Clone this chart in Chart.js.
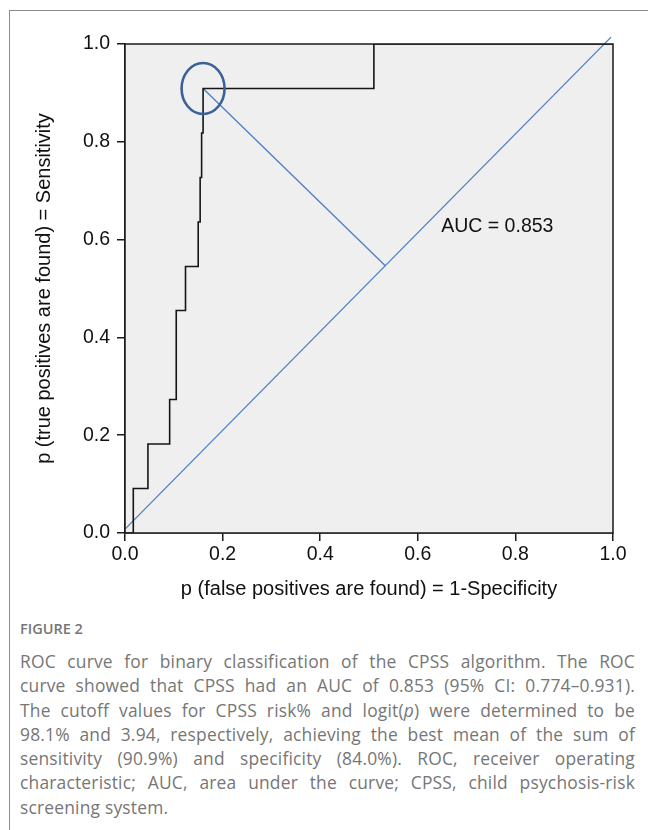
<!DOCTYPE html>
<html>
<head>
<meta charset="utf-8">
<script src="https://cdn.jsdelivr.net/npm/chart.js@4"></script>
<style>
  body { margin: 0; background: #fff; width: 648px; height: 830px; overflow: hidden; position: relative; }
  #frame { position: absolute; left: 9px; top: 10px; right: 0; bottom: 0; border-left: 1px solid #8c8c8c; border-top: 1px solid #8c8c8c; }
  #wrap { position: absolute; left: 0; top: 0; width: 648px; height: 610px; }
  #caption { position: absolute; left: 20px; right: 13px; top: 618px; font-family: "Open Sans", Lato, sans-serif; color: #767676; }
  #caption .fig { font-size: 14.5px; font-weight: 600; line-height: 22px; margin-bottom: 9px; }
  #caption .ln { font-size: 17.4px; line-height: 24.3px; letter-spacing: 0.2px; white-space: nowrap; text-align: justify; text-align-last: justify; }
  #caption .ln.last { text-align-last: left; }
</style>
</head>
<body>
<div id="frame"></div>
<div id="wrap"><canvas id="roc"></canvas></div>
<div id="caption">
  <div class="fig">FIGURE 2</div>
  <div class="ln">ROC curve for binary classification of the CPSS algorithm. The ROC</div>
  <div class="ln">curve showed that CPSS had an AUC of 0.853 (95% CI: 0.774–0.931).</div>
  <div class="ln">The cutoff values for CPSS risk% and logit(<i>p</i>) were determined to be</div>
  <div class="ln">98.1% and 3.94, respectively, achieving the best mean of the sum of</div>
  <div class="ln">sensitivity (90.9%) and specificity (84.0%). ROC, receiver operating</div>
  <div class="ln">characteristic; AUC, area under the curve; CPSS, child psychosis-risk</div>
  <div class="ln last">screening system.</div>
</div>
<script>
// ROC step curve (1-specificity, sensitivity)
const rocFpr = [0, 0.017, 0.047, 0.0915, 0.105, 0.124, 0.150, 0.154, 0.157, 0.160, 0.510, 1.0];
const rocTpr = [0, 0.091, 0.182, 0.273, 0.455, 0.545, 0.636, 0.727, 0.818, 0.909, 1.0, 1.0];

// reference diagonal (drawn slightly off in the original)
const diagX = [0, 0.996];
const diagY = [0.008, 1.014];

// best cutoff point and its perpendicular to the diagonal
const cutoffPoint = [0.160, 0.909];
const perpX = [0.160, 0.534];
const perpY = [0.909, 0.546];

const aucLabel = 'AUC = 0.853';
const aucPos = [0.648, 0.626];

const tickValues = [0, 0.2, 0.4, 0.6, 0.8, 1.0];
const xTitle = 'p (false positives are found) = 1-Specificity';
const yTitle = 'p (true positives are found) = Sensitivity';

function toPoints(xs, ys) {
    return xs.map((x, i) => ({ x: x, y: ys[i] }));
}

const tickFont = { family: '"Liberation Sans", Arial, sans-serif', size: 19.5 };
const titleFont = { family: '"Liberation Sans", Arial, sans-serif', size: 20 };

// grey panel behind the plot, frame, circle and AUC text
const panelPlugin = {
    id: 'panel',
    beforeDatasetsDraw(chart) {
        const a = chart.chartArea, ctx = chart.ctx;
        ctx.save();
        ctx.fillStyle = '#efefef';
        ctx.fillRect(a.left, a.top, a.right - a.left, a.bottom - a.top);
        ctx.restore();
    },
    afterDatasetsDraw(chart) {
        const a = chart.chartArea, ctx = chart.ctx;
        const xs = chart.scales.x, ys = chart.scales.y;
        ctx.save();
        ctx.strokeStyle = '#1a1a1a';
        ctx.lineWidth = 1.5;
        ctx.strokeRect(a.left, a.top, a.right - a.left, a.bottom - a.top);

        // circle around the cutoff
        ctx.strokeStyle = '#3b6298';
        ctx.lineWidth = 2.6;
        ctx.beginPath();
        ctx.ellipse(xs.getPixelForValue(cutoffPoint[0]), ys.getPixelForValue(cutoffPoint[1]), 21.5, 25.5, 0, 0, Math.PI * 2);
        ctx.stroke();

        ctx.fillStyle = '#111';
        ctx.font = '19.5px "Liberation Sans", Arial';
        ctx.textAlign = 'left';
        ctx.textBaseline = 'middle';
        ctx.fillText(aucLabel, xs.getPixelForValue(aucPos[0]), ys.getPixelForValue(aucPos[1]));
        ctx.restore();
    }
};

const ctx = document.getElementById('roc').getContext('2d');
new Chart(ctx, {
    type: 'scatter',
    data: {
        datasets: [
            {
                data: toPoints(rocFpr, rocTpr),
                showLine: true,
                stepped: 'before',
                borderColor: '#161616',
                borderWidth: 1.6,
                pointRadius: 0
            },
            {
                data: toPoints(diagX, diagY),
                showLine: true,
                borderColor: '#4a7fc4',
                borderWidth: 1.3,
                pointRadius: 0,
                clip: false
            },
            {
                data: toPoints(perpX, perpY),
                showLine: true,
                borderColor: '#4a7fc4',
                borderWidth: 1.3,
                pointRadius: 0
            }
        ]
    },
    plugins: [panelPlugin],
    options: {
        responsive: true,
        maintainAspectRatio: false,
        animation: false,
        layout: { padding: { left: 0, top: 44, right: 35, bottom: 0 } },
        plugins: {
            legend: { display: false },
            tooltip: { enabled: false }
        },
        scales: {
            x: {
                type: 'linear',
                min: 0,
                max: 1,
                afterBuildTicks: (s) => { s.ticks = tickValues.map(v => ({ value: v })); },
                afterFit: (s) => { s.height = 77; },
                ticks: {
                    callback: (v) => v.toFixed(1),
                    font: tickFont,
                    color: '#111',
                    padding: 2,
                    maxRotation: 0
                },
                grid: { drawOnChartArea: false, drawTicks: true, tickLength: 8, color: '#1a1a1a', lineWidth: 1.5 },
                border: { color: '#1a1a1a', width: 1.5 },
                title: { display: true, text: xTitle, font: titleFont, color: '#111', padding: { top: 0, bottom: 9 } }
            },
            y: {
                type: 'linear',
                min: 0,
                max: 1,
                afterBuildTicks: (s) => { s.ticks = tickValues.map(v => ({ value: v })); },
                afterFit: (s) => { s.width = 125; },
                ticks: {
                    callback: (v) => v.toFixed(1),
                    font: tickFont,
                    color: '#111',
                    padding: 7
                },
                grid: { drawOnChartArea: false, drawTicks: true, tickLength: 8, color: '#1a1a1a', lineWidth: 1.5 },
                border: { color: '#1a1a1a', width: 1.5 },
                title: { display: true, text: yTitle, font: titleFont, color: '#111', padding: { top: 32, bottom: 0 } }
            }
        }
    }
});
</script>
</body>
</html>
